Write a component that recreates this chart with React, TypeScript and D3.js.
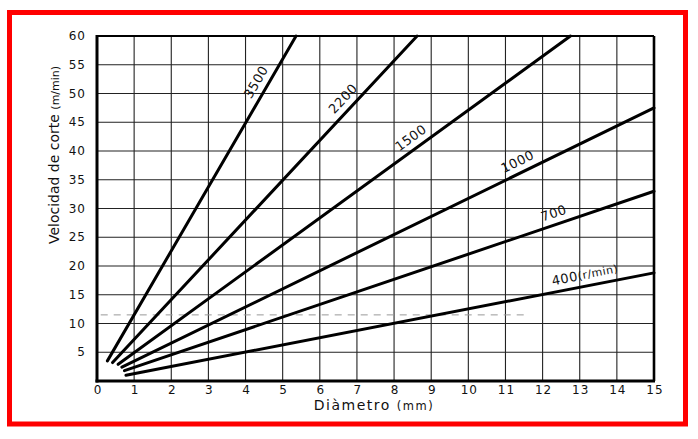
import React from 'react';
import * as d3 from 'd3';

// tick labels
const xTicks = [0, 1, 2, 3, 4, 5, 6, 7, 8, 9, 10, 11, 12, 13, 14, 15];
const yTicks = [5, 10, 15, 20, 25, 30, 35, 40, 45, 50, 55, 60];

// one line per spindle speed (r/min), read as start / end points (diameter mm, speed m/min)
const speeds = ['3500', '2200', '1500', '1000', '700', '400'];
const startD = [0.28, 0.42, 0.57, 0.67, 0.74, 0.78];
const startV = [3.5, 3.2, 2.9, 2.4, 1.8, 1.0];
const endD = [5.36, 8.62, 12.75, 15, 15, 15];
const endV = [60, 60, 60, 47.5, 33.0, 18.8];

// where the speed label sits along each line (diameter)
const labelD = [4.55, 6.85, 8.63, 11.46, 12.4, 13.2];

const W = 698;
const H = 439;
const font = '"DejaVu Sans", Verdana, sans-serif';

export default function App() {
  const x = d3.scaleLinear().domain([0, 15]).range([97, 654]);
  const y = d3.scaleLinear().domain([0, 60]).range([381, 36]);
  const line = d3.line<[number, number]>().x(d => x(d[0])).y(d => y(d[1]));

  const series = speeds.map((s, i) => {
    const pts: [number, number][] = [[startD[i], startV[i]], [endD[i], endV[i]]];
    const dx = x(endD[i]) - x(startD[i]);
    const dy = y(endV[i]) - y(startV[i]);
    const ang = Math.atan2(dy, dx);
    const t = (labelD[i] - startD[i]) / (endD[i] - startD[i]);
    const lv = startV[i] + t * (endV[i] - startV[i]);
    const off = 11.5;
    const lx = x(labelD[i]) + Math.sin(ang) * off;
    const ly = y(lv) - Math.cos(ang) * off;
    return { s, pts, deg: (ang * 180) / Math.PI, lx, ly };
  });

  return (
    <svg width={W} height={H} style={{ position: 'absolute', left: 0, top: 0, background: '#fff' }}>
      <rect x={9.5} y={12.5} width={676} height={411.5} fill="none" stroke="#ff0000" strokeWidth={5} />

      {/* grid */}
      <g stroke="#222" strokeWidth={1.1}>
        {xTicks.slice(1, -1).map(t => (
          <line key={'gx' + t} x1={x(t)} x2={x(t)} y1={y(60)} y2={y(0)} />
        ))}
        {yTicks.slice(0, -1).map(t => (
          <line key={'gy' + t} x1={x(0)} x2={x(15)} y1={y(t)} y2={y(t)} />
        ))}
      </g>

      {/* faint dashed guide */}
      <line x1={x(0.1)} x2={x(11.6)} y1={y(11.5)} y2={y(11.5)} stroke="#999" strokeWidth={1} strokeDasharray="7 6" />

      {/* frame */}
      <g stroke="#000" fill="none">
        <line x1={x(0)} x2={x(15)} y1={y(60)} y2={y(60)} strokeWidth={2.2} />
        <line x1={x(15)} x2={x(15)} y1={y(60)} y2={y(0)} strokeWidth={2.6} />
        <line x1={x(0)} x2={x(0)} y1={y(60) - 1} y2={y(0) + 1.5} strokeWidth={3} />
        <line x1={x(0) - 1.5} x2={x(15) + 1} y1={y(0)} y2={y(0)} strokeWidth={3} />
      </g>

      {/* speed lines */}
      <g fill="none" stroke="#000" strokeWidth={3} strokeLinecap="round">
        {series.map(d => (
          <path key={d.s} d={line(d.pts) || ''} />
        ))}
      </g>

      {/* speed labels */}
      <g fontFamily={font} fontSize={13} fill="#111">
        {series.map(d => (
          <text
            key={'l' + d.s}
            transform={`translate(${d.lx},${d.ly}) rotate(${d.deg})`}
            textAnchor="middle"
            dominantBaseline="central"
            letterSpacing={0.5}
          >
            {d.s}
            {d.s === '400' ? <tspan fontSize={11}>(r/min)</tspan> : null}
          </text>
        ))}
      </g>

      {/* y tick labels */}
      <g fontFamily={font} fontSize={12} fill="#111" textAnchor="end">
        {yTicks.map(t => (
          <text key={'yt' + t} x={86} y={y(t)} dominantBaseline="central" letterSpacing={1}>
            {t}
          </text>
        ))}
      </g>

      {/* x tick labels */}
      <g fontFamily={font} fontSize={12} fill="#111" textAnchor="middle">
        {xTicks.map(t => (
          <text key={'xt' + t} x={x(t) + 1} y={394} letterSpacing={1}>
            {t}
          </text>
        ))}
      </g>

      {/* axis titles */}
      <text x={374} y={410} fontFamily={font} fontSize={14} fill="#111" textAnchor="middle" letterSpacing={1.5}>
        Diàmetro <tspan fontSize={11.5}>(mm)</tspan>
      </text>
      <text
        transform="translate(59,155) rotate(-90)"
        fontFamily={font}
        fontSize={14}
        fill="#111"
        textAnchor="middle"
      >
        Velocidad de corte <tspan fontSize={11}>(m/min)</tspan>
      </text>
    </svg>
  );
}
